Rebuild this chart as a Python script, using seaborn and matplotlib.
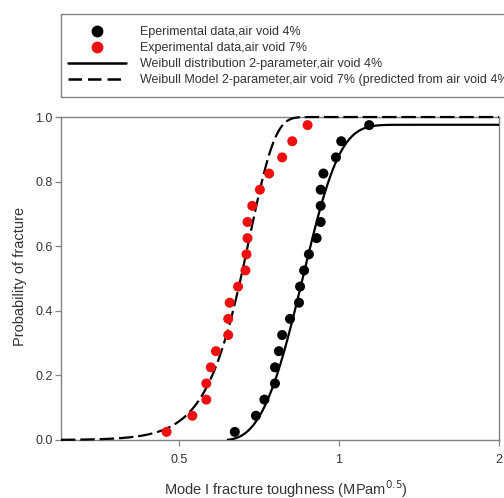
import numpy as np
import pandas as pd
import matplotlib
matplotlib.use("Agg")
import matplotlib.pyplot as plt
import seaborn as sns
from matplotlib.lines import Line2D
from matplotlib.patches import Rectangle
from matplotlib.ticker import FixedLocator, NullLocator, FixedFormatter

# Measured fracture toughness (MPa m^0.5), sorted, with plotting-position probabilities
toughness_4 = [0.637, 0.698, 0.724, 0.758, 0.758, 0.771, 0.782, 0.809, 0.841, 0.845,
               0.860, 0.878, 0.908, 0.924, 0.924, 0.924, 0.935, 0.987, 1.010, 1.140]
toughness_7 = [0.474, 0.530, 0.563, 0.563, 0.574, 0.587, 0.619, 0.619, 0.623, 0.646,
               0.667, 0.670, 0.673, 0.673, 0.687, 0.710, 0.739, 0.782, 0.817, 0.873]
prob = [0.025, 0.075, 0.125, 0.175, 0.225, 0.275, 0.325, 0.375, 0.425, 0.475,
        0.525, 0.575, 0.625, 0.675, 0.725, 0.775, 0.825, 0.875, 0.925, 0.975]

# Fitted Weibull parameters
fit4 = dict(x0=0.60, scale=0.289, shape=2.6, pmax=0.976)
fit7 = dict(scale=0.68, shape=9.2)

x_ticks = [0.5, 1, 2]
x_tick_labels = ["0.5", "1", "2"]
y_ticks = [0.0, 0.2, 0.4, 0.6, 0.8, 1.0]

legend_labels = [
    "Eperimental data,air void 4%",
    "Experimental data,air void 7%",
    "Weibull distribution 2-parameter,air void 4%",
    "Weibull Model 2-parameter,air void 7% (predicted from air void 4%)",
]

sns.set_style("ticks")
plt.rcParams["font.family"] = ["Liberation Sans", "DejaVu Sans"]

fig = plt.figure(figsize=(5.04, 4.98), dpi=100)
ax = fig.add_axes([0.121, 0.1165, 0.869, 0.6485])

# Model curves
xs4 = np.geomspace(fit4["x0"] + 0.018, 2.0, 600)
u = np.clip(xs4 - fit4["x0"], 0, None) / fit4["scale"]
p4 = fit4["pmax"] * (1 - np.exp(-u ** fit4["shape"]))
xs7 = np.geomspace(0.3, 2.0, 600)
p7 = 1 - np.exp(-(xs7 / fit7["scale"]) ** fit7["shape"])

curves4 = pd.DataFrame({"x": xs4, "p": p4})
curves7 = pd.DataFrame({"x": xs7, "p": p7})
sns.lineplot(data=curves4, x="x", y="p", ax=ax, color="black", lw=1.6,
             estimator=None, sort=False, zorder=3)
sns.lineplot(data=curves7, x="x", y="p", ax=ax, color="black", lw=1.6,
             estimator=None, sort=False, zorder=3)
ax.lines[-1].set_dashes([6.5, 2.2])
ax.lines[-1].set_clip_on(False)

pts4 = pd.DataFrame({"x": toughness_4, "p": prob})
pts7 = pd.DataFrame({"x": toughness_7, "p": prob})
sns.scatterplot(data=pts7, x="x", y="p", ax=ax, color="#ee1010", s=52,
                edgecolor="none", zorder=4)
sns.scatterplot(data=pts4, x="x", y="p", ax=ax, color="black", s=52,
                edgecolor="none", zorder=4)

ax.set_xscale("log")
ax.set_xlim(0.3, 2.0)
ax.set_ylim(0.0, 1.0)
ax.xaxis.set_major_locator(FixedLocator(x_ticks))
ax.xaxis.set_major_formatter(FixedFormatter(x_tick_labels))
ax.xaxis.set_minor_locator(NullLocator())
ax.set_yticks(y_ticks)
ax.set_yticklabels([f"{v:.1f}" for v in y_ticks])

for side in ["left", "right", "top", "bottom"]:
    ax.spines[side].set_visible(True)
    ax.spines[side].set_color("#808080")
    ax.spines[side].set_linewidth(1.0)
ax.tick_params(axis="both", direction="out", length=4, width=0.9,
               colors="#808080", labelcolor="#333333", labelsize=9, pad=2)
ax.tick_params(axis="x", pad=6)

ax.set_xlabel("Mode I fracture toughness (MPam$^{0.5}$)", fontsize=10.5,
              color="#333333")
ax.set_ylabel("Probability of fracture", fontsize=10.5, color="#333333")
ax.xaxis.set_label_coords(0.514, -0.118)
ax.yaxis.set_label_coords(-0.078, 0.506)

# Legend box (extends past the right edge of the figure)
fig.patches.append(Rectangle((0.121, 1 - 97 / 498), 0.92, 82.5 / 498,
                             transform=fig.transFigure, facecolor="white",
                             edgecolor="#808080", lw=1.0, zorder=0))

handles = [
    Line2D([], [], ls="none", marker="o", color="black", markersize=7.5),
    Line2D([], [], ls="none", marker="o", color="#ee1010", markersize=7.5),
    Line2D([], [], color="black", lw=1.8),
    Line2D([], [], color="black", lw=1.8, dashes=[5.4, 2.4]),
]
leg = fig.legend(handles, legend_labels, loc="upper left",
                 bbox_to_anchor=(68 / 504, 1 - 26.5 / 498), fontsize=9,
                 frameon=False, handlelength=4.6,
                 handletextpad=1.15, labelspacing=0.31, borderpad=0,
                 borderaxespad=0)
for t in leg.get_texts():
    t.set_color("#333333")

fig.savefig("out.png", dpi=100)
